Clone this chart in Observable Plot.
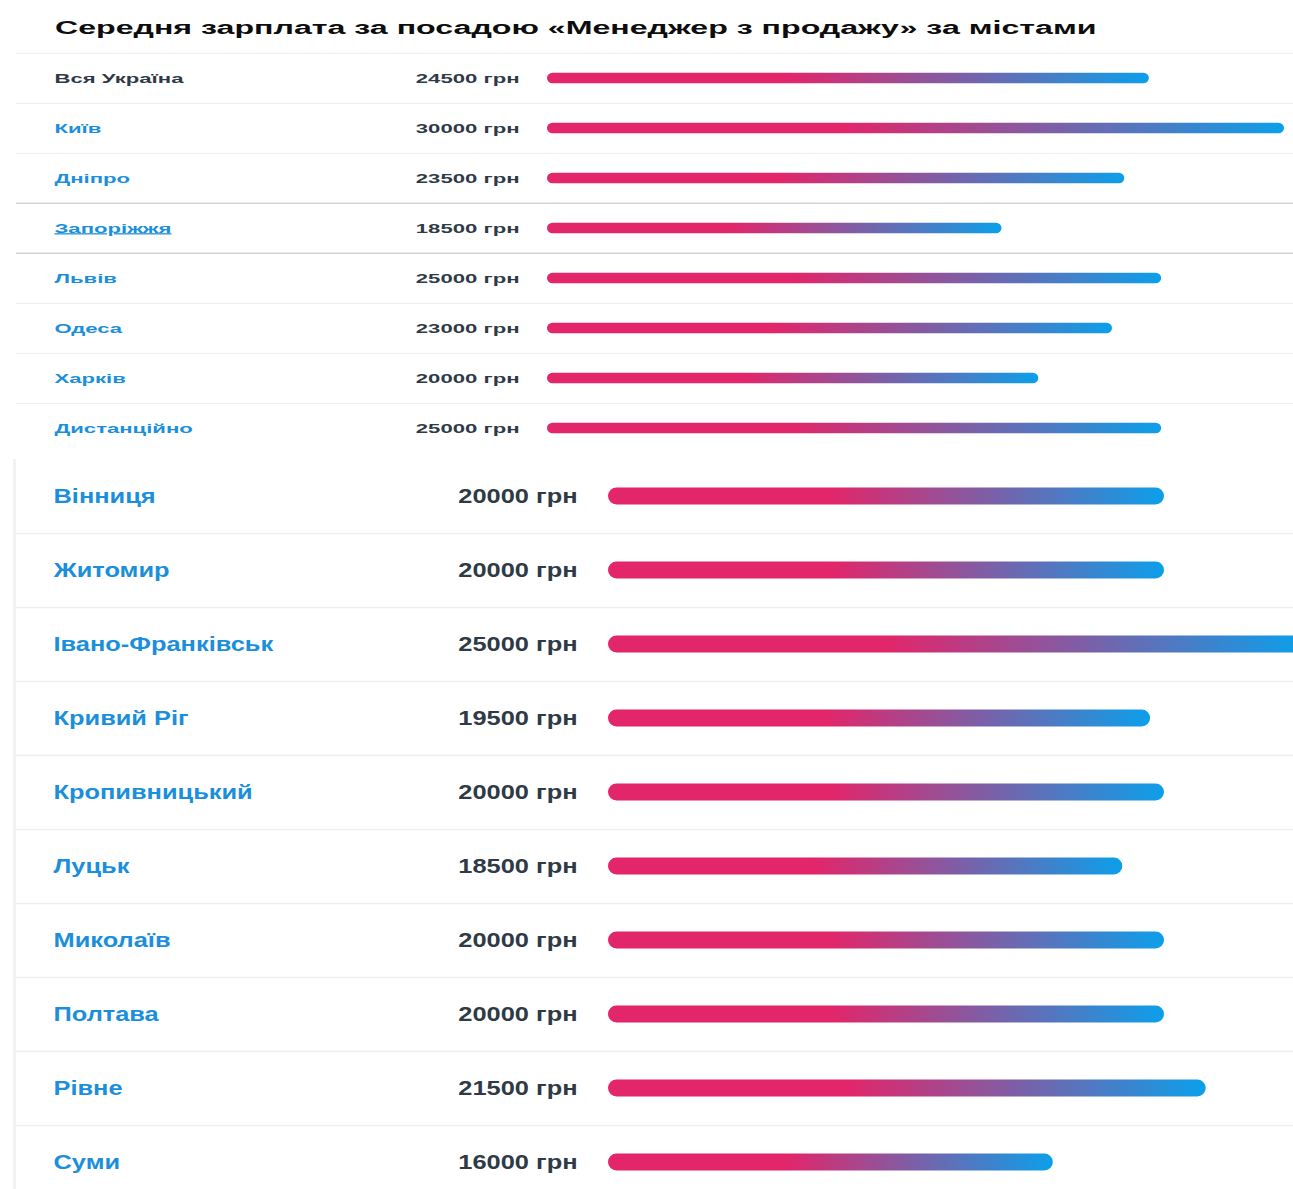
<!DOCTYPE html>
<html><head><meta charset="utf-8">
<script src="https://cdn.jsdelivr.net/npm/d3@7"></script>
<script src="https://cdn.jsdelivr.net/npm/@observablehq/plot@0.6"></script>
<style>
body{margin:0;background:#fff;overflow:hidden;font-family:"Liberation Sans",Arial,sans-serif}
#title{height:51px;box-sizing:border-box;padding:17px 0 0 55px;font-size:18px;font-weight:bold;color:#0d0d0d;line-height:22px;white-space:nowrap;overflow:hidden}
#title span{display:inline-block;transform:scaleX(1.785);transform-origin:0 50%}
#bottom{margin:5px 0 0 13px;border-left:3px solid #f2f2f2;overflow:hidden;height:740px}
svg{display:block}
</style></head><body>
<div id="title"><span></span></div>
<div id="top"></div>
<div id="bottom"></div>
<script>
const title = "Середня зарплата за посадою «Менеджер з продажу» за містами";
const topCities = ["Вся Україна", "Київ", "Дніпро", "Запоріжжя", "Львів", "Одеса", "Харків", "Дистанційно"];
const topSalaries = [24500, 30000, 23500, 18500, 25000, 23000, 20000, 25000];
const bottomCities = ["Вінниця", "Житомир", "Івано-Франківськ", "Кривий Ріг", "Кропивницький", "Луцьк", "Миколаїв", "Полтава", "Рівне", "Суми"];
const bottomSalaries = [20000, 20000, 25000, 19500, 20000, 18500, 20000, 20000, 21500, 16000];
const currency = "грн";
const highlightedCity = "Запоріжжя";

document.querySelector("#title span").textContent = title;

const FONT = "Liberation Sans, Arial, sans-serif";
const PINK = "#e3256a", BLUE = "#0c9fea";
const LABEL_BLUE = "#1b8fdb", DARK = "#2f3a47";

function addGradient(svg, id) {
  d3.select(svg).insert("defs", ":first-child").html(
    `<linearGradient id="${id}" x1="0" x2="1" y1="0" y2="0">
       <stop offset="0" stop-color="${PINK}"/>
       <stop offset="0.4" stop-color="${PINK}"/>
       <stop offset="1" stop-color="${BLUE}"/>
     </linearGradient>`);
}
// Horizontally stretch every text about its anchor (left for start, right for end)
function stretchText(svg, s) {
  const texts = Array.from(svg.querySelectorAll("text"));
  texts.forEach(t => {
    const parent = t.parentNode;
    const r = t.getBoundingClientRect();
    const anchor = (t.getAttribute("text-anchor") || getComputedStyle(t).textAnchor || "start");
    const cx = anchor === "end" ? r.right : r.left;
    const pt = svg.createSVGPoint();
    pt.x = cx; pt.y = r.top;
    const local = pt.matrixTransform(parent.getScreenCTM().inverse());
    const g = document.createElementNS("http://www.w3.org/2000/svg", "g");
    g.setAttribute("transform", `translate(${local.x * (1 - s)},0) scale(${s},1)`);
    parent.insertBefore(g, t);
    g.appendChild(t);
    if (t.textContent === highlightedCity) t.style.textDecoration = "underline";
  });
}

// ---- top section
const topData = topCities.map((city, i) => ({city, salary: topSalaries[i], i}));
const hi = topCities.indexOf(highlightedCity);
const topH = 403, topBand = topH / topCities.length;
const topPlot = Plot.plot({
  width: 1293, height: topH,
  marginTop: 0, marginBottom: 0, marginLeft: 16, marginRight: 0,
  x: {domain: [0, 30000], range: [547, 1284], axis: null},
  y: {domain: topCities, padding: 0, axis: null},
  style: {fontFamily: FONT, overflow: "visible", background: "transparent"},
  marks: [
    Plot.ruleY(topData.filter(d => d.i !== hi && d.i !== hi + 1), {y: "city", dy: -topBand / 2, stroke: "#ededed", strokeWidth: 1}),
    Plot.ruleY(topData.filter(d => d.i === hi || d.i === hi + 1), {y: "city", dy: -topBand / 2, stroke: "#d3d3da", strokeWidth: 1.5}),
    Plot.text(topData.filter(d => d.i === 0), {y: "city", text: "city", frameAnchor: "left", dx: 38, textAnchor: "start", fill: DARK, fontSize: 12.5, fontWeight: "bold"}),
    Plot.text(topData.filter(d => d.i > 0), {y: "city", text: "city", frameAnchor: "left", dx: 38, textAnchor: "start", fill: LABEL_BLUE, fontSize: 12.5, fontWeight: "bold"}),
    Plot.text(topData, {y: "city", text: d => `${d.salary} ${currency}`, frameAnchor: "left", dx: 503, textAnchor: "end", fill: DARK, fontSize: 12.5, fontWeight: "bold"}),
    Plot.barX(topData, {y: "city", x: "salary", fill: "url(#gradTop)", insetTop: (topBand - 11) / 2, insetBottom: (topBand - 11) / 2, rx: 5.5})
  ]
});
addGradient(topPlot, "gradTop");
document.getElementById("top").appendChild(topPlot);
stretchText(topPlot, 1.77);

// ---- bottom section
const botData = bottomCities.map((city, i) => ({city, salary: bottomSalaries[i], i}));
const botH = 740, botBand = botH / bottomCities.length;
const botPlot = Plot.plot({
  width: 1277, height: botH,
  marginTop: 0, marginBottom: 0, marginLeft: 0, marginRight: 0,
  x: {domain: [0, 20000], range: [592, 1148], axis: null},
  y: {domain: bottomCities, padding: 0, axis: null},
  style: {fontFamily: FONT, overflow: "hidden", background: "transparent"},
  marks: [
    Plot.ruleY(botData.filter(d => d.i > 0), {y: "city", dy: -botBand / 2, stroke: "#efefef", strokeWidth: 1.5}),
    Plot.text(botData, {y: "city", text: "city", frameAnchor: "left", dx: 37, textAnchor: "start", fill: LABEL_BLUE, fontSize: 20, fontWeight: "bold"}),
    Plot.text(botData, {y: "city", text: d => `${d.salary} ${currency}`, frameAnchor: "left", dx: 561, textAnchor: "end", fill: DARK, fontSize: 20, fontWeight: "bold"}),
    Plot.barX(botData, {y: "city", x: "salary", fill: "url(#gradBot)", insetTop: (botBand - 17) / 2, insetBottom: (botBand - 17) / 2, rx: 8.5})
  ]
});
addGradient(botPlot, "gradBot");
document.getElementById("bottom").appendChild(botPlot);
stretchText(botPlot, 1.27);
</script>
</body></html>
